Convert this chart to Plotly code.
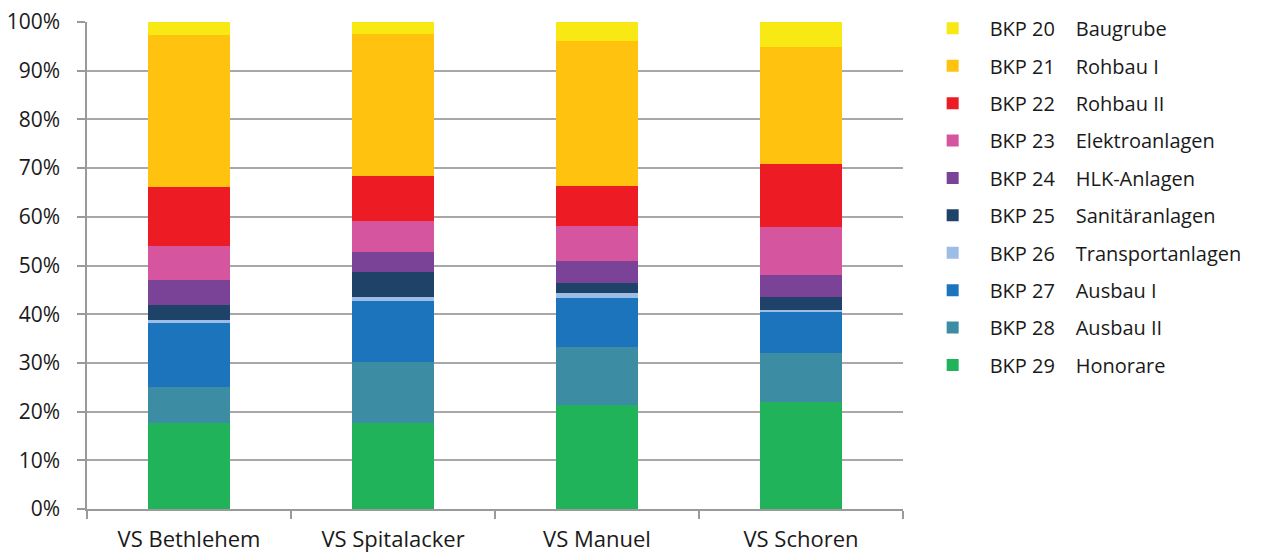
import plotly.graph_objects as go

# Schulhäuser (Kategorien auf der x-Achse)
schulen = ["VS Bethlehem", "VS Spitalacker", "VS Manuel", "VS Schoren"]

# BKP-Positionen, von unten nach oben gestapelt
bkp_codes = ["BKP 29", "BKP 28", "BKP 27", "BKP 26", "BKP 25",
             "BKP 24", "BKP 23", "BKP 22", "BKP 21", "BKP 20"]
bkp_namen = ["Honorare", "Ausbau II", "Ausbau I", "Transportanlagen", "Sanitäranlagen",
             "HLK-Anlagen", "Elektroanlagen", "Rohbau II", "Rohbau I", "Baugrube"]

# Anteile in % je Schule (Reihenfolge wie schulen)
honorare         = [17.6, 17.6, 21.4, 21.9]
ausbau_ii        = [7.5, 12.5, 11.95, 10.2]
ausbau_i         = [13.1, 12.7, 10.05, 8.3]
transportanlagen = [0.6, 0.8, 1.05, 0.5]
sanitaeranlagen  = [3.0, 5.0, 1.95, 2.6]
hlk_anlagen      = [5.25, 4.1, 4.55, 4.45]
elektroanlagen   = [7.05, 6.5, 7.15, 9.95]
rohbau_ii        = [12.0, 9.2, 8.3, 12.9]
rohbau_i         = [31.2, 29.2, 29.8, 24.1]
baugrube         = [2.7, 2.4, 3.8, 5.1]

anteile = [honorare, ausbau_ii, ausbau_i, transportanlagen, sanitaeranlagen,
           hlk_anlagen, elektroanlagen, rohbau_ii, rohbau_i, baugrube]

farben = ["#21B35A", "#3C8DA3", "#1C75BC", "#9CBDE6", "#1F4269",
          "#7B4397", "#D5569E", "#ED1C24", "#FFC20E", "#F8E814"]

y_ticks = [0, 10, 20, 30, 40, 50, 60, 70, 80, 90, 100]

FONT = "'Open Sans', 'Noto Sans', sans-serif"
TEXT = "#1a1a1a"
NBSP = "\u00a0"

fig = go.Figure()
n = len(bkp_codes)
for i, (code, name, werte, farbe) in enumerate(zip(bkp_codes, bkp_namen, anteile, farben)):
    fig.add_trace(go.Bar(
        x=schulen,
        y=werte,
        name=code + NBSP * 4 + name,
        legendgroup=code,
        legendrank=n - i,  # oberstes Segment zuerst in der Legende
        marker=dict(color=farbe, line=dict(width=0)),
        hovertemplate="%{x}<br>" + code + " " + name + ": %{y:.1f}%<extra></extra>",
    ))

fig.update_layout(
    barmode="stack",
    bargap=0.6,
    width=1263,
    height=552,
    margin=dict(l=87, r=360, t=22, b=43),
    paper_bgcolor="white",
    plot_bgcolor="white",
    font=dict(family=FONT, size=20, color=TEXT),
    legend=dict(
        traceorder="grouped",
        xref="container",
        yref="container",
        x=0.725,
        xanchor="left",
        y=0.984,
        yanchor="top",
        itemwidth=64,
        maxheight=540,
        font=dict(family=FONT, size=20, color=TEXT),
        tracegroupgap=8.4,
        itemclick=False,
        itemdoubleclick=False,
    ),
    xaxis=dict(
        type="category",
        tickson="boundaries",
        ticks="outside",
        ticklen=8,
        tickcolor="#9a9a9a",
        tickwidth=1.5,
        showline=True,
        linecolor="#9a9a9a",
        linewidth=1.5,
        showgrid=False,
        automargin=False,
        ticklabelstandoff=10,
        tickfont=dict(family=FONT, size=22, color=TEXT),
    ),
    yaxis=dict(
        range=[0, 100],
        tickvals=y_ticks,
        ticktext=[f"{v}%" for v in y_ticks],
        ticks="outside",
        ticklen=8,
        tickcolor="#9a9a9a",
        tickwidth=1.5,
        showline=True,
        linecolor="#9a9a9a",
        linewidth=1.5,
        showgrid=True,
        gridcolor="#a8a8a8",
        gridwidth=1.5,
        zeroline=False,
        automargin=False,
        ticklabelstandoff=13,
        tickfont=dict(family=FONT, size=21, color=TEXT),
    ),
)

fig.write_html("out.html")
